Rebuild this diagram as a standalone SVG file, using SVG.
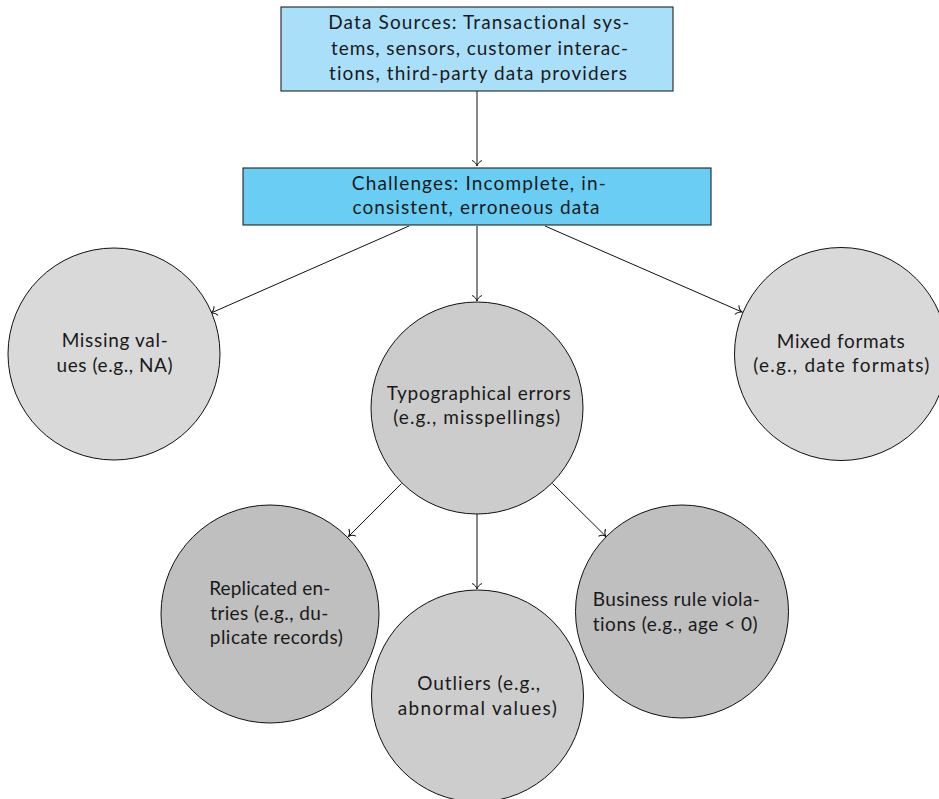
<svg xmlns="http://www.w3.org/2000/svg" width="939" height="799" viewBox="0 0 939 799">
<style>
text{font-family:Lato,"Noto Sans","Liberation Sans",sans-serif;font-size:19px;fill:#1a1a1a;text-anchor:middle;font-variant-ligatures:none}
.box{stroke:#222;stroke-width:1.1}
.c{stroke:#111;stroke-width:1}
.e{stroke:#111;stroke-width:1;fill:none;marker-end:url(#to)}
</style>
<defs>
<marker id="to" viewBox="-7 -6 9 12" markerWidth="9" markerHeight="12" refX="0" refY="0" orient="auto" markerUnits="userSpaceOnUse">
<path d="M-5.5,-5 C-4.5,-2.2 -1.8,-0.5 0,0 C-1.8,0.5 -4.5,2.2 -5.5,5" fill="none" stroke="#111" stroke-width="1"/>
</marker>
</defs>
<rect width="939" height="799" fill="#fff"/>
<g id="edges">
<line class="e" x1="477" y1="91" x2="477" y2="166"/>
<line class="e" x1="409" y1="226" x2="211" y2="313"/>
<line class="e" x1="477" y1="226" x2="477" y2="301"/>
<line class="e" x1="545" y1="226" x2="742" y2="312"/>
<line class="e" x1="401.5" y1="483.5" x2="348.5" y2="536.5"/>
<line class="e" x1="477" y1="514" x2="477" y2="589"/>
<line class="e" x1="552.5" y1="483.5" x2="606" y2="536.5"/>
</g>
<g id="sources">
<rect class="box" x="281" y="7" width="392" height="84" fill="#aadff9"/>
<text x="478.8" y="29" textLength="301" lengthAdjust="spacing">Data Sources: Transactional sys-</text>
<text x="479.5" y="55" textLength="297" lengthAdjust="spacing">tems, sensors, customer interac-</text>
<text x="478" y="80" textLength="298" lengthAdjust="spacing">tions, third-party data providers</text>
</g>
<g id="challenges">
<rect class="box" x="243" y="168" width="468" height="57" fill="#6acef4"/>
<text x="478.8" y="190" textLength="254" lengthAdjust="spacing">Challenges: Incomplete, in-</text>
<text x="476" y="214" textLength="247" lengthAdjust="spacing">consistent, erroneous data</text>
</g>
<g id="missing">
<circle class="c" cx="114" cy="354" r="106" fill="#d9d9d9"/>
<text x="114.7" y="346.5" textLength="106" lengthAdjust="spacing">Missing val-</text>
<text x="114.6" y="371.5" textLength="116" lengthAdjust="spacing">ues (e.g., NA)</text>
</g>
<g id="mixed">
<circle class="c" cx="841" cy="354" r="106.5" fill="#d9d9d9"/>
<text x="840.8" y="347.5" textLength="128" lengthAdjust="spacing">Mixed formats</text>
<text x="841.3" y="371.5" textLength="176" lengthAdjust="spacing">(e.g., date formats)</text>
</g>
<g id="typo">
<circle class="c" cx="477" cy="408" r="106" fill="#cccccc"/>
<text x="478.7" y="400" textLength="184" lengthAdjust="spacing">Typographical errors</text>
<text x="476.7" y="424" textLength="167" lengthAdjust="spacing">(e.g., misspellings)</text>
</g>
<g id="replicated">
<circle class="c" cx="270" cy="614" r="109" fill="#bfbfbf"/>
<text x="269.7" y="595" textLength="121" lengthAdjust="spacing">Replicated en-</text>
<text x="269.2" y="620" textLength="118" lengthAdjust="spacing">tries (e.g., du-</text>
<text x="276.3" y="644" textLength="133" lengthAdjust="spacing">plicate records)</text>
</g>
<g id="business">
<circle class="c" cx="682" cy="611.5" r="106.5" fill="#bfbfbf"/>
<text x="676.3" y="606" textLength="167" lengthAdjust="spacing">Business rule viola-</text>
<text x="675.2" y="630.5" textLength="165" lengthAdjust="spacing">tions (e.g., age &lt; 0)</text>
</g>
<g id="outliers">
<circle class="c" cx="477.5" cy="696" r="106" fill="#cdcdcd"/>
<text x="478.7" y="690" textLength="123" lengthAdjust="spacing">Outliers (e.g.,</text>
<text x="477.3" y="715" textLength="159" lengthAdjust="spacing">abnormal values)</text>
</g>
</svg>
